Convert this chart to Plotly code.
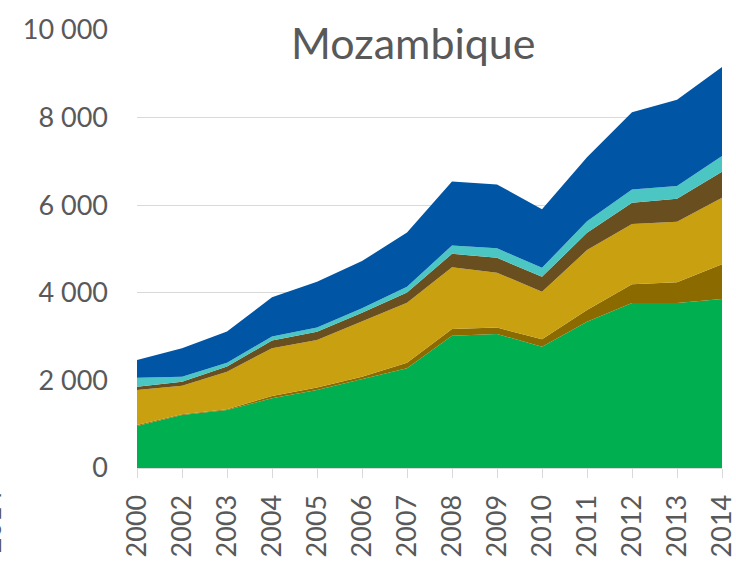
import plotly.graph_objects as go

years = ["2000", "2002", "2003", "2004", "2005", "2006", "2007",
         "2008", "2009", "2010", "2011", "2012", "2013", "2014"]

green = [960, 1210, 1325, 1590, 1780, 2025, 2275, 3020, 3060, 2770, 3340, 3765, 3765, 3860]
olive = [20, 15, 15, 55, 60, 60, 130, 155, 145, 170, 265, 430, 475, 790]
gold = [800, 655, 860, 1090, 1080, 1255, 1370, 1410, 1255, 1085, 1370, 1375, 1385, 1520]
brown = [75, 90, 115, 175, 190, 205, 230, 305, 340, 340, 395, 485, 520, 595]
teal = [205, 115, 90, 90, 100, 100, 135, 190, 215, 205, 265, 305, 295, 360]
blue = [405, 650, 710, 900, 1040, 1080, 1235, 1460, 1460, 1340, 1460, 1765, 1965, 2030]

series = [
    ("s1", green, "#00B050"),
    ("s2", olive, "#8B6A00"),
    ("s3", gold, "#C9A00F"),
    ("s4", brown, "#694E20"),
    ("s5", teal, "#4BC6C3"),
    ("s6", blue, "#0055A5"),
]

tick_vals = [0, 2000, 4000, 6000, 8000, 10000]
tick_text = ["0", "2 000", "4 000", "6 000", "8 000", "10 000"]

fig = go.Figure()
for name, vals, col in series:
    fig.add_trace(go.Scatter(
        x=years, y=vals, name=name, mode="lines",
        stackgroup="one", line=dict(width=0, color=col),
        fillcolor=col, showlegend=False, hoverinfo="skip"))

FONT = "Lato"
fig.update_layout(
    width=736, height=562,
    margin=dict(l=137, r=14, t=30, b=94),
    paper_bgcolor="white", plot_bgcolor="white",
    font=dict(family=FONT, color="#595959", size=27),
    xaxis=dict(type="category", range=[0, 13], showgrid=False, automargin=False,
               showline=True, linecolor="#D9D9D9", linewidth=1,
               ticks="outside", ticklen=9, tickcolor="#D9D9D9",
               tickangle=-90, tickfont=dict(size=27, family=FONT, color="#595959"),
               ticklabelstandoff=6),
    yaxis=dict(range=[0, 10000], tickvals=tick_vals, ticktext=tick_text,
               showgrid=True, gridcolor="#D9D9D9", gridwidth=1, automargin=False,
               zeroline=False, showline=False, ticks="",
               tickfont=dict(size=27, family=FONT, color="#595959"),
               ticklabelstandoff=28, layer="below traces"),
    annotations=[
        dict(text="Mozambique", xref="paper", yref="paper", x=0.4735, y=0.972,
             xanchor="center", yanchor="middle", showarrow=False,
             font=dict(size=43, family=FONT, color="#595959"),
             bgcolor="white", borderpad=6),
        dict(text="2014", xref="paper", yref="paper", x=-0.249, y=-0.123,
             xanchor="center", yanchor="middle", showarrow=False,
             textangle=-90, font=dict(size=27, family=FONT, color="#595959")),
    ],
)

fig.write_html("out.html", config={"displayModeBar": False},
               post_script="document.body.style.margin='0';document.body.style.padding='0';")
